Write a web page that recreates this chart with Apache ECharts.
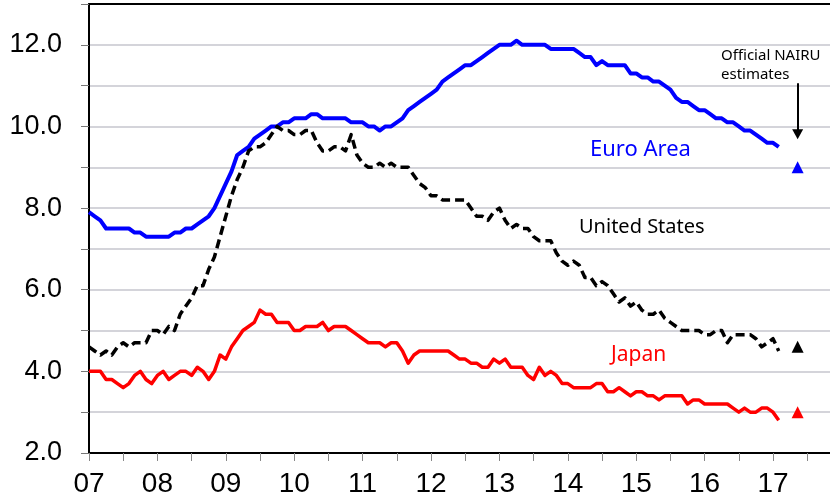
<!DOCTYPE html>
<html>
<head>
<meta charset="utf-8">
<script src="https://cdn.jsdelivr.net/npm/echarts@6/dist/echarts.min.js"></script>
<style>
  html, body { margin: 0; padding: 0; background: #fff; }
  #chart { width: 830px; height: 501px; }
</style>
</head>
<body>
<div id="chart"></div>
<script>
// monthly unemployment rates, Jan 2007 onwards
var startYear = 2007;
var yearLabels = ['07', '08', '09', '10', '11', '12', '13', '14', '15', '16', '17'];

var euroArea = [
  7.9, 7.8, 7.7, 7.5, 7.5, 7.5, 7.5, 7.5, 7.4, 7.4, 7.3, 7.3,
  7.3, 7.3, 7.3, 7.4, 7.4, 7.5, 7.5, 7.6, 7.7, 7.8, 8.0, 8.3,
  8.6, 8.9, 9.3, 9.4, 9.5, 9.7, 9.8, 9.9, 10.0, 10.0, 10.1, 10.1,
  10.2, 10.2, 10.2, 10.3, 10.3, 10.2, 10.2, 10.2, 10.2, 10.2, 10.1, 10.1,
  10.1, 10.0, 10.0, 9.9, 10.0, 10.0, 10.1, 10.2, 10.4, 10.5, 10.6, 10.7,
  10.8, 10.9, 11.1, 11.2, 11.3, 11.4, 11.5, 11.5, 11.6, 11.7, 11.8, 11.9,
  12.0, 12.0, 12.0, 12.1, 12.0, 12.0, 12.0, 12.0, 12.0, 11.9, 11.9, 11.9,
  11.9, 11.9, 11.8, 11.7, 11.7, 11.5, 11.6, 11.5, 11.5, 11.5, 11.5, 11.3,
  11.3, 11.2, 11.2, 11.1, 11.1, 11.0, 10.9, 10.7, 10.6, 10.6, 10.5, 10.4,
  10.4, 10.3, 10.2, 10.2, 10.1, 10.1, 10.0, 9.9, 9.9, 9.8, 9.7, 9.6,
  9.6, 9.5
];

var unitedStates = [
  4.6, 4.5, 4.4, 4.5, 4.4, 4.6, 4.7, 4.6, 4.7, 4.7, 4.7, 5.0,
  5.0, 4.9, 5.1, 5.0, 5.4, 5.6, 5.8, 6.1, 6.1, 6.5, 6.8, 7.3,
  7.8, 8.3, 8.7, 9.0, 9.4, 9.5, 9.5, 9.6, 9.8, 10.0, 9.9, 9.9,
  9.8, 9.8, 9.9, 9.9, 9.6, 9.4, 9.4, 9.5, 9.5, 9.4, 9.8, 9.3,
  9.1, 9.0, 9.0, 9.1, 9.0, 9.1, 9.0, 9.0, 9.0, 8.8, 8.6, 8.5,
  8.3, 8.3, 8.2, 8.2, 8.2, 8.2, 8.2, 8.0, 7.8, 7.8, 7.7, 7.9,
  8.0, 7.7, 7.5, 7.6, 7.5, 7.5, 7.3, 7.2, 7.2, 7.2, 6.9, 6.7,
  6.6, 6.7, 6.6, 6.3, 6.3, 6.1, 6.2, 6.1, 5.9, 5.7, 5.8, 5.6,
  5.7, 5.5, 5.4, 5.4, 5.5, 5.3, 5.2, 5.1, 5.0, 5.0, 5.0, 5.0,
  4.9, 4.9, 5.0, 5.0, 4.7, 4.9, 4.9, 4.9, 4.9, 4.8, 4.6, 4.7,
  4.8, 4.5
];

var japan = [
  4.0, 4.0, 4.0, 3.8, 3.8, 3.7, 3.6, 3.7, 3.9, 4.0, 3.8, 3.7,
  3.9, 4.0, 3.8, 3.9, 4.0, 4.0, 3.9, 4.1, 4.0, 3.8, 4.0, 4.4,
  4.3, 4.6, 4.8, 5.0, 5.1, 5.2, 5.5, 5.4, 5.4, 5.2, 5.2, 5.2,
  5.0, 5.0, 5.1, 5.1, 5.1, 5.2, 5.0, 5.1, 5.1, 5.1, 5.0, 4.9,
  4.8, 4.7, 4.7, 4.7, 4.6, 4.7, 4.7, 4.5, 4.2, 4.4, 4.5, 4.5,
  4.5, 4.5, 4.5, 4.5, 4.4, 4.3, 4.3, 4.2, 4.2, 4.1, 4.1, 4.3,
  4.2, 4.3, 4.1, 4.1, 4.1, 3.9, 3.8, 4.1, 3.9, 4.0, 3.9, 3.7,
  3.7, 3.6, 3.6, 3.6, 3.6, 3.7, 3.7, 3.5, 3.5, 3.6, 3.5, 3.4,
  3.5, 3.5, 3.4, 3.4, 3.3, 3.4, 3.4, 3.4, 3.4, 3.2, 3.3, 3.3,
  3.2, 3.2, 3.2, 3.2, 3.2, 3.1, 3.0, 3.1, 3.0, 3.0, 3.1, 3.1,
  3.0, 2.8
];

// official NAIRU estimates: euro area, US, Japan
var nairuNames = ['Euro Area', 'United States', 'Japan'];
var nairuValues = [9.0, 4.6, 3.0];
var nairuColors = ['#0000ff', '#000000', '#ff0000'];
var nairuDate = 2017.36;
// annotation arrow, in axis units
var arrowFrom = 11.06, arrowTo = 9.81;

var xMin = 2007, xMax = 2017.833;

function toPairs(arr) {
  return arr.map(function (v, i) { return [startYear + i / 12, v]; });
}

var dom = document.getElementById('chart');
var myChart = echarts.init(dom);

var series = [
  {
    name: 'Euro Area', type: 'line', data: toPairs(euroArea),
    showSymbol: false, symbol: 'none',
    lineStyle: { color: '#0000ff', width: 4, join: 'round' }
  },
  {
    name: 'Japan', type: 'line', data: toPairs(japan),
    showSymbol: false, symbol: 'none',
    lineStyle: { color: '#ff0000', width: 3.5, join: 'round' }
  },
  {
    name: 'United States', type: 'line', data: toPairs(unitedStates),
    showSymbol: false, symbol: 'none',
    lineStyle: { color: '#000000', width: 3.5, type: [9, 5], join: 'round' }
  }
];

nairuValues.forEach(function (v, i) {
  series.push({
    name: nairuNames[i] + ' NAIRU', type: 'scatter',
    data: [[nairuDate, v]],
    symbol: 'triangle', symbolSize: 12,
    itemStyle: { color: nairuColors[i], opacity: 1 },
    z: 5
  });
});

// arrow pointing at the estimates
series.push({
  name: 'arrow', type: 'scatter', silent: true,
  data: [[nairuDate, arrowTo]],
  symbol: 'triangle', symbolSize: [11, 10], symbolRotate: 180,
  itemStyle: { color: '#000', opacity: 1 },
  z: 6,
  markLine: {
    silent: true,
    symbol: ['none', 'none'],
    label: { show: false },
    lineStyle: { color: '#000', width: 2, type: 'solid' },
    data: [[{ coord: [nairuDate, arrowFrom] }, { coord: [nairuDate, arrowTo] }]]
  }
});

option = {
  animation: false,
  grid: {
    left: 89, right: 0, top: 4, bottom: 48,
    show: false
  },
  xAxis: [
    {
      type: 'value',
      min: xMin,
      max: xMax,
      interval: 0.5,
      axisLine: { onZero: false, lineStyle: { color: '#000', width: 2 } },
      axisTick: { show: true, length: 8, lineStyle: { color: '#888' } },
      splitLine: { show: false },
      axisLabel: {
        margin: 17,
        fontSize: 28,
        fontFamily: 'Liberation Sans',
        color: '#000',
        showMaxLabel: false,
        formatter: function (v) {
          var r = Math.round(v * 2) / 2;
          if (r % 1 !== 0) return '';
          var idx = r - startYear;
          return yearLabels[idx] !== undefined ? yearLabels[idx] : '';
        }
      }
    },
    {
      type: 'value',
      position: 'top',
      min: xMin,
      max: xMax,
      axisLine: { onZero: false, lineStyle: { color: '#000', width: 2 } },
      axisTick: { show: false },
      axisLabel: { show: false },
      splitLine: { show: false }
    }
  ],
  yAxis: {
    type: 'value',
    min: 2,
    max: 13,
    interval: 1,
    axisLine: { show: true, lineStyle: { color: '#000', width: 2 } },
    axisTick: { show: true, length: 8, lineStyle: { color: '#777' } },
    splitLine: { lineStyle: { color: '#c6c6ce', width: 1.5 } },
    axisLabel: {
      margin: 27,
      fontSize: 27,
      fontFamily: 'Liberation Sans',
      color: '#000',
      formatter: function (v) {
        return (v % 2 === 0 && v < 13) ? v.toFixed(1) : '';
      }
    }
  },
  graphic: [
    {
      type: 'text', x: 590, y: 150, silent: true,
      style: { text: 'Euro Area', fill: '#0000ff', font: '22px "Noto Sans"',
        textAlign: 'left', textVerticalAlign: 'middle', align: 'left', verticalAlign: 'middle' }
    },
    {
      type: 'text', x: 579, y: 227, silent: true,
      style: { text: 'United States', fill: '#000', font: '20px "Noto Sans"',
        textAlign: 'left', textVerticalAlign: 'middle', align: 'left', verticalAlign: 'middle' }
    },
    {
      type: 'text', x: 611, y: 355, silent: true,
      style: { text: 'Japan', fill: '#ff0000', font: '21px "Noto Sans"',
        textAlign: 'left', textVerticalAlign: 'middle', align: 'left', verticalAlign: 'middle' }
    },
    {
      type: 'text', x: 721, y: 65, silent: true,
      style: { text: 'Official NAIRU\nestimates', fill: '#000', font: '15px "Noto Sans"',
        lineHeight: 19,
        textAlign: 'left', textVerticalAlign: 'middle', align: 'left', verticalAlign: 'middle' }
    }
  ],
  series: series
};

myChart.setOption(option, true);

window.onresize = function () {
  myChart.resize();
};
</script>
</body>
</html>
